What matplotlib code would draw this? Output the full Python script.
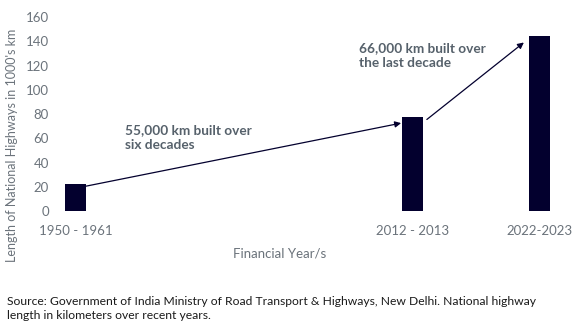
import matplotlib
matplotlib.use("Agg")
import matplotlib.pyplot as plt

# National highway length, thousands of km
years = ['1950 - 1961', '2012 - 2013', '2022-2023']
length_k = [22.5, 77.5, 144]
# slot of each period on the x axis (gaps between periods)
slots = [0, 8, 11]

bar_color = '#03002e'
grey = '#6b737b'
note_color = '#56616b'

plt.rcParams['font.family'] = ['Lato', 'DejaVu Sans']

fig = plt.figure(figsize=(5.73, 3.35), dpi=100)
ax = fig.add_axes([0.0949, 0.3701, 0.8834, 0.5791])

w = 0.5
ax.bar(slots, length_k, width=w, color=bar_color)

ax.set_xlim(-0.5, 11.5)
ax.set_ylim(0, 160)
ax.set_yticks(range(0, 161, 20))
ax.set_xticks(slots)
ax.set_xticklabels(years)
ax.tick_params(axis='both', length=0, labelsize=9.5, labelcolor=grey)
ax.tick_params(axis='x', pad=10)
ax.tick_params(axis='y', pad=4)
for s in ax.spines.values():
    s.set_visible(False)

# growth arrows between bars
arrow = dict(arrowstyle='-|>', color=bar_color, lw=0.9, mutation_scale=9,
             shrinkA=0, shrinkB=0)
ax.annotate('', xy=(slots[1] - w / 2 - 0.03, length_k[1] - 5),
            xytext=(slots[0] + w / 2, length_k[0] - 2), arrowprops=arrow)
ax.annotate('', xy=(slots[2] - w / 2 - 0.12, length_k[2] - 5),
            xytext=(slots[1] + w / 2 + 0.08, length_k[1] - 2), arrowprops=arrow)

ax.text(1.17, 72, '55,000 km built over\nsix decades', fontsize=9.8,
        fontweight='bold', color=note_color, va='top', linespacing=1.35)
ax.text(6.72, 139.5, '66,000 km built over\nthe last decade', fontsize=9.8,
        fontweight='bold', color=note_color, va='top', linespacing=1.35)

fig.text(12 / 573, 1 - 145 / 335, "Length of National Highways in 1000's km",
         rotation=90, ha='center', va='center', fontsize=9, color=grey)
fig.text(280 / 573, 1 - 253 / 335, 'Financial Year/s', ha='center',
         va='center', fontsize=9.5, color=grey)
fig.text(7 / 573, 1 - 296 / 335,
         'Source: Government of India Ministry of Road Transport & Highways, '
         'New Delhi. National highway\nlength in kilometers over recent years.',
         ha='left', va='top', fontsize=8.7, color='#1a1a1a', linespacing=1.3)

fig.savefig('out.png', dpi=100)
